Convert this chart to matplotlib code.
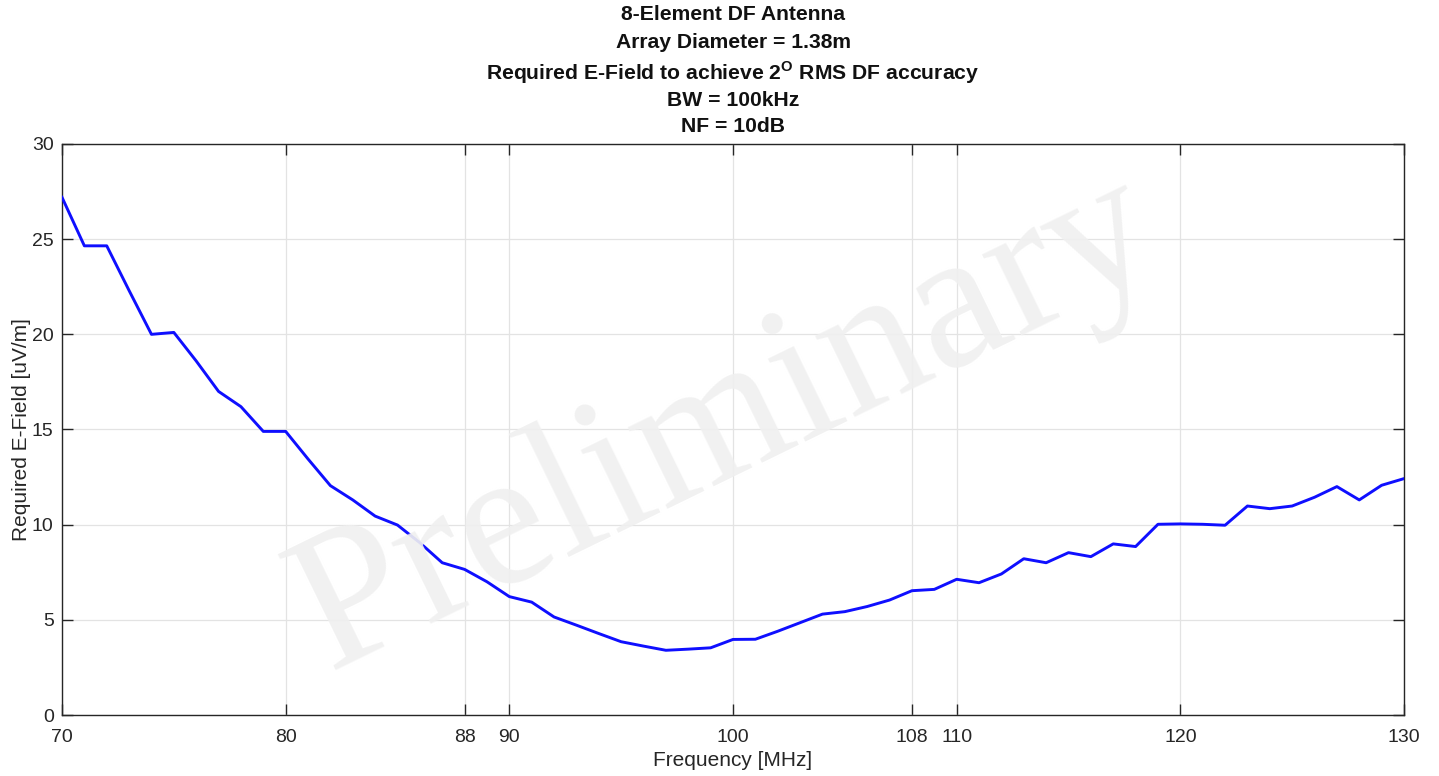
import matplotlib
matplotlib.use("Agg")
import matplotlib.pyplot as plt

freq_mhz = list(range(70, 131))
efield_uvm = [
    27.2, 24.65, 24.65, 22.3, 20.0, 20.1, 18.6, 17.0, 16.2, 14.9,   # 70-79
    14.9, 13.45, 12.05, 11.3, 10.45, 9.98, 9.05, 8.0, 7.65, 7.0,    # 80-89
    6.22, 5.93, 5.15, 4.72, 4.28, 3.85, 3.62, 3.4, 3.46, 3.53,      # 90-99
    3.97, 3.98, 4.4, 4.85, 5.3, 5.43, 5.7, 6.04, 6.53, 6.6,         # 100-109
    7.13, 6.95, 7.41, 8.21, 8.0, 8.53, 8.32, 8.99, 8.85, 10.02,     # 110-119
    10.04, 10.02, 9.97, 10.98, 10.84, 10.98, 11.44, 12.0, 11.3, 12.07,  # 120-129
    12.42,                                                           # 130
]
x_ticks = [70, 80, 88, 90, 100, 108, 110, 120, 130]
y_ticks = [0, 5, 10, 15, 20, 25, 30]
title_lines = [
    "8-Element DF Antenna",
    "Array Diameter = 1.38m",
    r"Required E-Field to achieve 2$^\mathregular{O}$ RMS DF accuracy",
    "BW = 100kHz",
    "NF = 10dB",
]

plt.rcParams['font.family'] = ['Liberation Sans', 'DejaVu Sans']
plt.rcParams['mathtext.fontset'] = 'custom'
plt.rcParams['mathtext.rm'] = 'Liberation Sans:bold'

W, H = 1439, 776
fig = plt.figure(figsize=(W / 100, H / 100), dpi=100)
ax = fig.add_axes([62 / W, 1 - 715 / H, (1404 - 62) / W, (715 - 144) / H])

axc = '#262626'
ax.plot(freq_mhz, efield_uvm, color='#0f0fff', lw=2.1, zorder=3)

ax.set_xlim(70, 130)
ax.set_ylim(0, 30)
ax.set_xticks(x_ticks)
ax.set_yticks(y_ticks)
ax.grid(True, color='#e3e3e3', lw=0.9, zorder=0)
ax.set_axisbelow(True)
ax.tick_params(direction='in', length=8, width=1, colors=axc, labelsize=14,
               top=True, right=True)
ax.tick_params(axis='x', pad=10)
ax.tick_params(axis='y', pad=6)
for s in ax.spines.values():
    s.set_color(axc)
    s.set_linewidth(1.0)

ax.set_xlabel("Frequency [MHz]", fontsize=15, color=axc, labelpad=4)
ax.set_ylabel("Required E-Field [uV/m]", fontsize=15, color=axc, labelpad=1)

# title lines
ys = [15, 42, 73, 100, 126]
for t, yy in zip(title_lines, ys):
    fig.text(733 / W, 1 - yy / H, t, ha='center', va='center',
             fontsize=15.2, fontweight='bold', color='#111111')

# watermark
ax.text(99.7, 15.3, "Preliminary", family=['Liberation Serif', 'DejaVu Serif'],
        fontsize=142, color='#f0f0f0', alpha=0.92, rotation=26,
        ha='center', va='center', zorder=4)

fig.savefig("out.png", dpi=100)
